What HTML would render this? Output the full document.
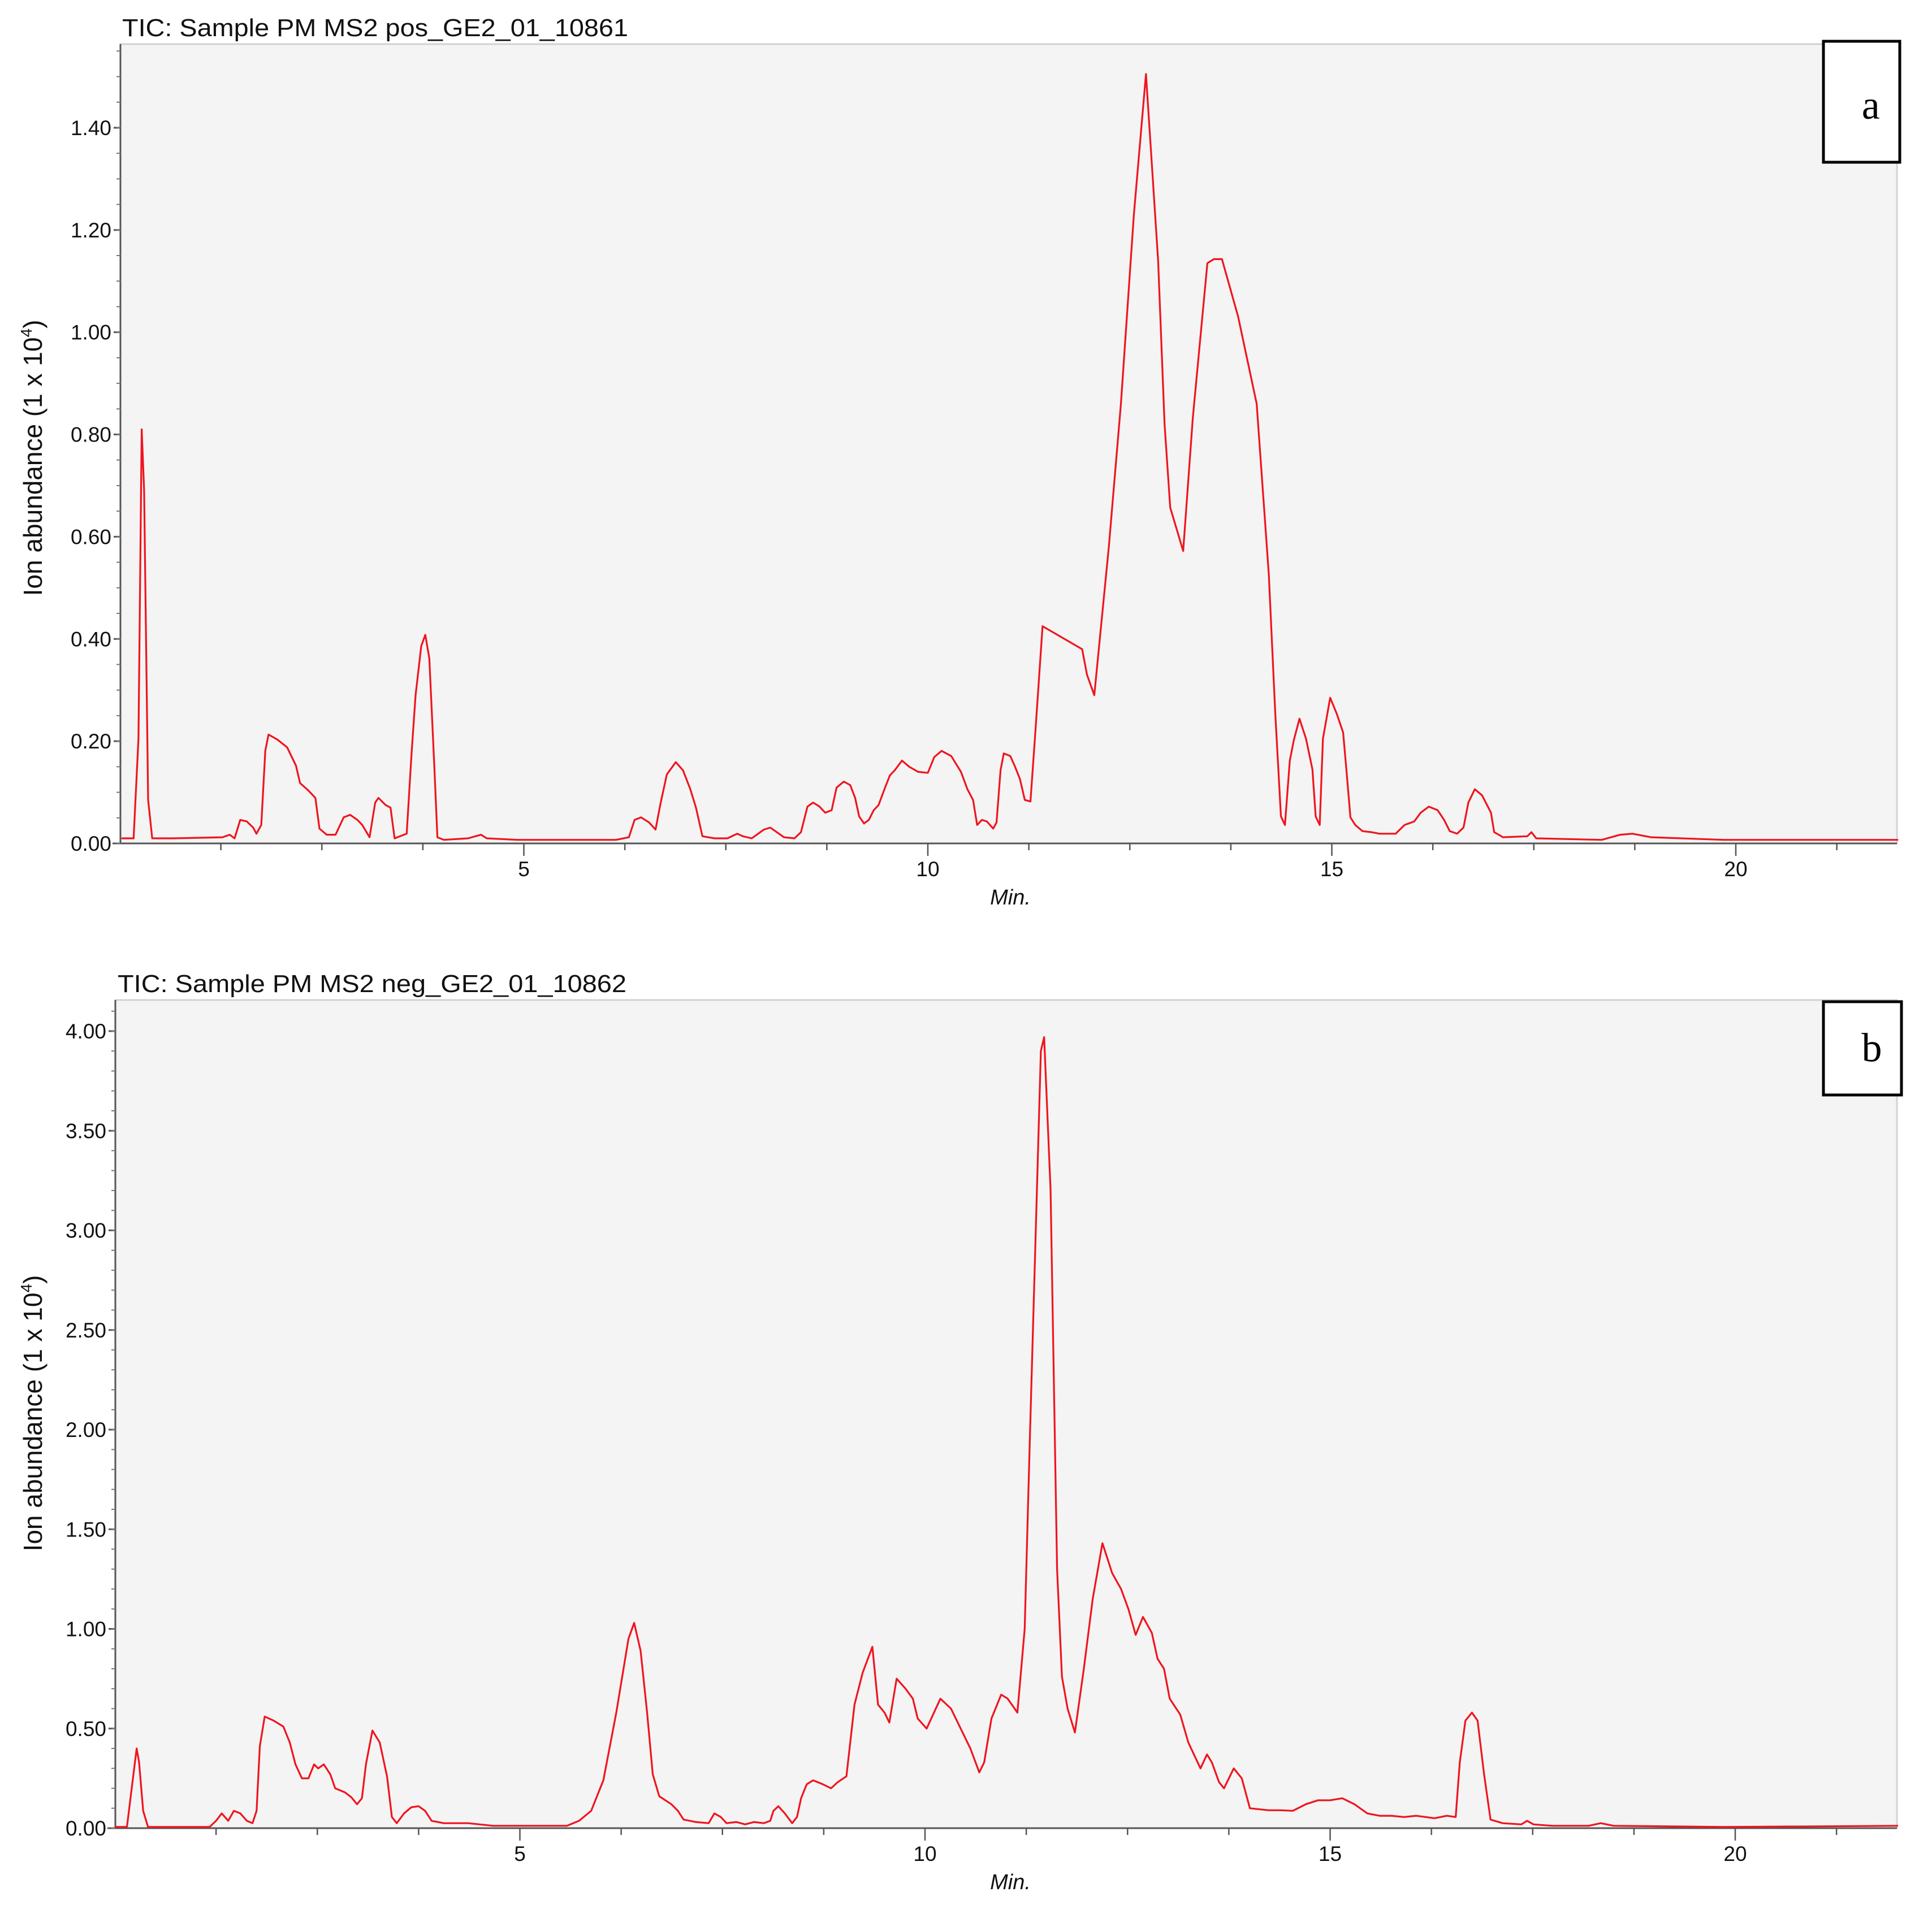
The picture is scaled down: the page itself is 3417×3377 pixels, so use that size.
<!DOCTYPE html>
<html><head><meta charset="utf-8"><style>
html,body{margin:0;padding:0;background:#fff;}
svg{display:block;font-family:"Liberation Sans",sans-serif;}
</style></head><body>
<svg id="fig" width="3417" height="3377" viewBox="0 0 3417 3377"></svg>
<script>
// Panel a data (minutes, abundance x1e4)
const timesA=[0.02,0.17,0.23,0.27,0.30,0.35,0.40,0.66,1.27,1.36,1.42,1.49,1.57,1.65,1.69,1.75,1.80,1.84,1.95,2.07,2.18,2.23,2.33,2.42,2.47,2.56,2.67,2.77,2.85,2.94,3.00,3.09,3.16,3.20,3.29,3.35,3.40,3.55,3.61,3.66,3.73,3.78,3.83,3.89,3.93,4.01,4.31,4.47,4.54,4.92,6.14,6.30,6.37,6.45,6.55,6.63,6.69,6.77,6.88,6.97,7.06,7.13,7.21,7.36,7.52,7.64,7.71,7.82,7.90,7.97,8.05,8.13,8.22,8.35,8.43,8.51,8.58,8.66,8.73,8.81,8.87,8.96,9.04,9.10,9.15,9.21,9.27,9.33,9.39,9.47,9.53,9.59,9.68,9.77,9.88,10.00,10.08,10.17,10.29,10.41,10.49,10.56,10.61,10.67,10.73,10.81,10.85,10.90,10.94,11.02,11.08,11.14,11.20,11.27,11.33,11.42,11.91,11.97,12.06,12.24,12.39,12.55,12.70,12.85,12.93,13.00,13.16,13.28,13.46,13.54,13.64,13.84,14.07,14.22,14.30,14.37,14.42,14.48,14.53,14.60,14.68,14.76,14.80,14.85,14.89,14.98,15.06,15.14,15.18,15.23,15.29,15.38,15.49,15.59,15.79,15.90,16.02,16.10,16.20,16.31,16.39,16.46,16.55,16.63,16.69,16.77,16.86,16.97,17.01,17.12,17.42,17.47,17.53,18.34,18.57,18.72,18.95,19.86,22.01];
const valuesA=[.010,.010,.205,.81,.69,.085,.010,.010,.012,.017,.010,.046,.043,.031,.019,.036,.181,.213,.203,.188,.152,.118,.104,.089,.029,.017,.017,.051,.056,.046,.036,.012,.080,.089,.075,.070,.010,.019,.176,.29,.386,.408,.362,.157,.012,.007,.010,.017,.010,.007,.007,.012,.046,.051,.041,.027,.077,.135,.159,.143,.106,.070,.014,.010,.010,.019,.014,.010,.019,.027,.031,.022,.012,.010,.022,.072,.080,.072,.060,.065,.109,.121,.114,.089,.053,.039,.046,.065,.075,.109,.133,.143,.162,.150,.140,.138,.169,.181,.171,.140,.106,.085,.036,.046,.043,.029,.041,.143,.176,.171,.150,.126,.085,.082,.217,.425,.38,.33,.29,.58,.86,1.23,1.505,1.14,.82,.657,.572,.833,1.135,1.143,1.143,1.031,.86,.527,.254,.053,.036,.162,.202,.244,.205,.145,.053,.036,.205,.285,.254,.217,.145,.051,.036,.024,.022,.019,.019,.036,.043,.060,.072,.065,.046,.024,.019,.031,.080,.106,.094,.060,.022,.012,.014,.022,.010,.007,.017,.019,.012,.007,.007];
// Panel b data
const timesB=[0,0.15,0.23,0.27,0.30,0.35,0.41,1.17,1.25,1.32,1.40,1.47,1.55,1.63,1.70,1.75,1.79,1.85,1.96,2.08,2.16,2.23,2.31,2.39,2.46,2.51,2.58,2.66,2.72,2.84,2.92,2.99,3.05,3.10,3.18,3.27,3.36,3.42,3.48,3.57,3.66,3.75,3.83,3.91,4.06,4.36,4.67,4.97,5.58,5.73,5.88,6.03,6.19,6.34,6.41,6.49,6.57,6.64,6.72,6.87,6.95,7.02,7.17,7.33,7.40,7.48,7.55,7.67,7.78,7.89,8.01,8.09,8.13,8.19,8.27,8.36,8.42,8.47,8.54,8.62,8.74,8.84,8.92,9.03,9.13,9.23,9.35,9.42,9.50,9.56,9.65,9.76,9.85,9.91,10.02,10.19,10.32,10.44,10.56,10.67,10.73,10.82,10.94,11.02,11.14,11.23,11.29,11.43,11.47,11.55,11.63,11.69,11.76,11.85,11.96,12.07,12.19,12.31,12.42,12.51,12.60,12.69,12.80,12.87,12.95,13.02,13.15,13.25,13.40,13.48,13.54,13.63,13.69,13.81,13.91,14.01,14.24,14.39,14.54,14.70,14.85,15.00,15.15,15.30,15.46,15.61,15.76,15.91,16.06,16.29,16.44,16.55,16.60,16.67,16.75,16.82,16.90,16.98,17.13,17.36,17.43,17.51,17.74,18.19,18.34,18.50,19.86,22.01];
const valuesB=[.006,.006,.27,.40,.33,.087,.006,.006,.037,.074,.037,.087,.074,.037,.025,.087,.41,.56,.54,.51,.43,.32,.25,.25,.32,.30,.32,.27,.20,.18,.155,.12,.15,.32,.49,.43,.26,.056,.025,.074,.105,.11,.087,.037,.025,.025,.012,.012,.012,.037,.087,.24,.58,.95,1.03,.89,.58,.27,.16,.12,.087,.043,.031,.025,.074,.056,.025,.031,.019,.031,.025,.037,.087,.11,.074,.025,.056,.15,.22,.24,.22,.20,.23,.26,.62,.78,.91,.62,.58,.53,.75,.70,.65,.55,.50,.65,.60,.50,.40,.28,.33,.55,.67,.65,.58,1.00,1.9,3.9,3.97,3.2,1.3,.76,.6,.48,.8,1.15,1.43,1.28,1.2,1.1,.97,1.06,.98,.85,.8,.65,.57,.43,.3,.37,.33,.23,.2,.3,.25,.1,.09,.09,.087,.12,.14,.14,.15,.12,.074,.062,.062,.056,.062,.05,.062,.056,.33,.54,.58,.54,.27,.043,.025,.019,.037,.019,.012,.012,.025,.012,.006,.012];
const ticksA=["0.00","0.20","0.40","0.60","0.80","1.00","1.20","1.40"];
const ticksB=["0.00","0.50","1.00","1.50","2.00","2.50","3.00","3.50","4.00"];
const xTickLabels=["5","10","15","20"];

const NS="http://www.w3.org/2000/svg";
const svg=document.getElementById('fig');
function mk(tag,attrs,parent){const e=document.createElementNS(NS,tag);for(const k in attrs)e.setAttribute(k,attrs[k]);(parent||svg).appendChild(e);return e;}

function panel(cfg){
  const g=mk('g',{});
  
  
  const xs=t=>cfg.x0+t*cfg.pxPerMin;
  const ys=v=>cfg.y0-v*cfg.pxPerUnit;
  const bg=mk('rect',{x:cfg.left,y:cfg.top,width:cfg.right-cfg.left,height:cfg.y0-cfg.top,fill:'#f4f4f4',stroke:'#d2d2d2','stroke-width':3},g);
  
  
  const ya=mk('line',{x1:cfg.left,y1:cfg.top,x2:cfg.left,y2:cfg.y0,stroke:'#555','stroke-width':3},g);
  
  
  const xa=mk('line',{x1:cfg.left-14,y1:cfg.y0,x2:cfg.right,y2:cfg.y0,stroke:'#555','stroke-width':3},g);
  
  
  cfg.ticks.forEach(lbl=>{
    const v=parseFloat(lbl),y=ys(v);
    mk('line',{x1:cfg.left-12,y1:y,x2:cfg.left,y2:y,stroke:'#555','stroke-width':3},g);
    const t=mk('text',{x:cfg.left-16,y:y+13,'font-size':37,'text-anchor':'end',fill:'#111'},g);
    t.textContent=lbl;
    
    
  });
  const maxV=(cfg.y0-cfg.top)/cfg.pxPerUnit;
  for(let v=0;v<=maxV+1e-9;v+=cfg.minor){mk('line',{x1:cfg.left-7,y1:ys(v),x2:cfg.left,y2:ys(v),stroke:'#777','stroke-width':2},g);}
  for(let m=1.25;m<=22.01;m+=1.25){const x=xs(m);const major=Math.abs(m%5)<1e-6;mk('line',{x1:x,y1:cfg.y0,x2:x,y2:cfg.y0+(major?22:12),stroke:'#555','stroke-width':2.5},g);}
  xTickLabels.forEach(l=>{
    const t=mk('text',{x:xs(parseFloat(l)),y:cfg.y0+58,'font-size':37,'text-anchor':'middle',fill:'#111'},g);
    t.textContent=l;
    
    
  });
  const xl=mk('text',{x:cfg.minX,y:cfg.y0+108,'font-size':38,'font-style':'italic','text-anchor':'middle',fill:'#111'},g);
  xl.textContent='Min.';
  
  
  const yl=mk('text',{x:0,y:0,'font-size':46,'text-anchor':'middle',fill:'#111',transform:`translate(74,${cfg.ylabY}) rotate(-90)`},g);
  yl.innerHTML='Ion abundance (1 x 10<tspan font-size="28" dy="-18">4</tspan><tspan dy="18">)</tspan>';
  
  
  const tt=mk('text',{x:cfg.titleX,y:cfg.titleY,'font-size':44,fill:'#111',textLength:cfg.titleW,lengthAdjust:'spacingAndGlyphs'},g);
  tt.textContent=cfg.title;
  
  
  let d='';
  cfg.times.forEach((t,i)=>{d+=(i?'L':'M')+xs(t).toFixed(1)+','+ys(cfg.values[i]).toFixed(1);});
  const p=mk('path',{d:d,fill:'none',stroke:'#f0141e','stroke-width':3.2,'stroke-linejoin':'round'},g);
  
  
  const bx=mk('rect',{x:cfg.box[0],y:cfg.box[1],width:cfg.box[2],height:cfg.box[3],fill:'#fff',stroke:'#000','stroke-width':5},g);
  
  
  const bl=mk('text',{x:cfg.box[0]+cfg.box[2]*0.62,y:cfg.box[1]+cfg.box[3]*0.64,'font-size':72,'font-family':'Liberation Serif, serif','text-anchor':'middle',fill:'#000'},g);
  bl.textContent=cfg.id;
  
  
}
panel({id:'a',left:213,top:78,right:3355,y0:1492,x0:212,pxPerMin:142.9,pxPerUnit:904.3,minor:0.05,
  ticks:ticksA,times:timesA,values:valuesA,title:'TIC: Sample PM MS2 pos_GE2_01_10861',titleX:216,titleY:64,titleW:895,
  minX:1787,ylabY:810,box:[3225,73,135,214]});
panel({id:'b',left:204,top:1769,right:3355,y0:3234,x0:203,pxPerMin:143.3,pxPerUnit:352.5,minor:0.1,
  ticks:ticksB,times:timesB,values:valuesB,title:'TIC: Sample PM MS2 neg_GE2_01_10862',titleX:208,titleY:1755,titleW:900,
  minX:1787,ylabY:2500,box:[3225,1772,138,165]});
</script>
</body></html>
